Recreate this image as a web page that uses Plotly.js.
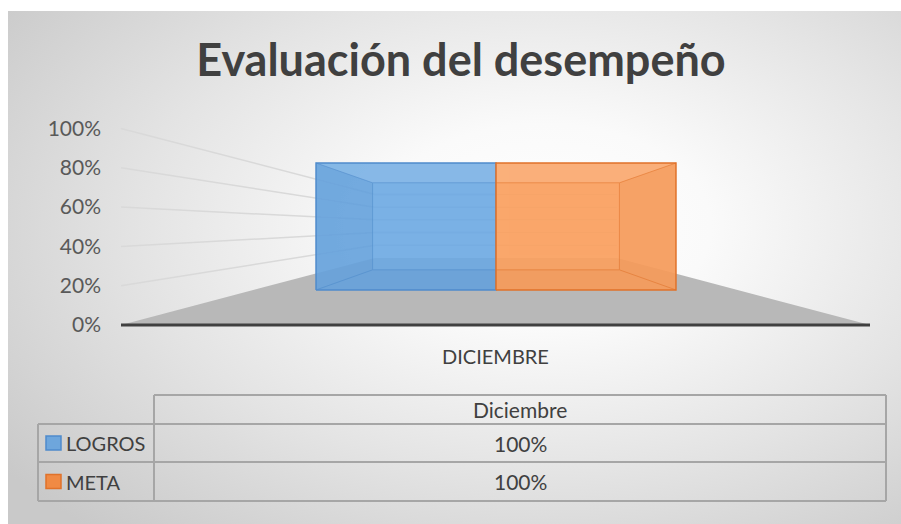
<!DOCTYPE html>
<html>
<head>
<meta charset="utf-8">
<script src="https://cdn.plot.ly/plotly-3.0.1.min.js"></script>
<style>
  html, body { margin:0; padding:0; background:#ffffff; }
  #bg { position:absolute; left:8px; top:11px; width:893px; height:513px;
        background: radial-gradient(ellipse 75% 80% at 60% 42%, #ffffff 0%, #fafafa 25%, #e4e4e4 60%, #c9c9c9 100%); }
  #chart { position:absolute; left:0; top:0; width:901px; height:524px; }
</style>
</head>
<body>
<div id="bg"></div>
<div id="chart"></div>
<script>
// ---------------- data ----------------
const chartTitle = 'Evaluación del desempeño';
const categories = ['DICIEMBRE'];
const tableHeader = ['Diciembre'];
const seriesNames = ['LOGROS', 'META'];
const logros = [1.0];
const meta = [1.0];
const tickValues = [0, 0.2, 0.4, 0.6, 0.8, 1.0];
const tickLabels = ['0%', '20%', '40%', '60%', '80%', '100%'];

// ---------------- styling / geometry ----------------
const W = 901, H = 524;
const VX = 496;            // vanishing point x (pixel axis)
const VY = 0.504;          // vanishing point in value units
const WALL_L = -375, WALL_R = 374;
const S_FRONT = 1.0, S_BACK = 0.323;
const BAR_SF = 0.646, BAR_SB = 0.443;
const BAR_HALF = 278.6;
const fills = ['rgba(108,168,226,0.90)', 'rgba(250,160,94,0.92)'];
const edges = ['#4f8bcb', '#e0722a'];
const sideShade = ['rgba(40,90,150,0.08)', 'rgba(170,80,20,0.05)'];
const keyFill = ['#6ea6dc', '#f08a44'];
const textCol = '#404040';
const FONT = 'Lato, "Open Sans", sans-serif';

function proj(X, v, s) { return [VX + X * s, VY + (v - VY) * s]; }
function poly(pts, extra) {
  const x = [], y = [];
  pts.forEach(p => { x.push(p[0]); y.push(p[1]); });
  x.push(pts[0][0]); y.push(pts[0][1]);
  return Object.assign({ type: 'scatter', mode: 'lines', x: x, y: y, hoverinfo: 'skip', showlegend: false }, extra);
}
function segs(list, extra) {
  const x = [], y = [];
  list.forEach(sg => { x.push(sg[0][0], sg[1][0], null); y.push(sg[0][1], sg[1][1], null); });
  return Object.assign({ type: 'scatter', mode: 'lines', x: x, y: y, hoverinfo: 'skip', showlegend: false }, extra);
}

const traces = [];
// floor
traces.push(poly([proj(WALL_L, 0, S_FRONT), proj(WALL_R, 0, S_FRONT), proj(WALL_R, 0, S_BACK), proj(WALL_L, 0, S_BACK)],
  { fill: 'toself', fillcolor: '#b8b8b8', line: { width: 0, color: 'rgba(0,0,0,0)' } }));
// gridlines: left wall + back wall
const grid = [];
tickValues.forEach(v => {
  if (v === 0) return;
  grid.push([proj(WALL_L, v, S_FRONT), proj(WALL_L, v, S_BACK)]);
  grid.push([proj(WALL_L, v, S_BACK), proj(WALL_R, v, S_BACK)]);
});
traces.push(segs(grid, { line: { color: '#d9d9d9', width: 1.5 } }));
// floor front edge
traces.push(segs([[proj(WALL_L, 0, S_FRONT), proj(WALL_R, 0, S_FRONT)]], { line: { color: '#404040', width: 3 } }));

// bars
const seriesVals = [logros, meta];
seriesVals.forEach((vals, i) => {
  vals.forEach((val, c) => {
    const X0 = i === 0 ? -BAR_HALF : 0;
    const X1 = i === 0 ? 0 : BAR_HALF;
    const Xo = i === 0 ? X0 : X1;
    traces.push(poly([proj(X0, 0, BAR_SF), proj(X1, 0, BAR_SF), proj(X1, val, BAR_SF), proj(X0, val, BAR_SF)],
      { fill: 'toself', fillcolor: fills[i], line: { width: 0, color: 'rgba(0,0,0,0)' } }));
    traces.push(poly([proj(Xo, 0, BAR_SF), proj(Xo, val, BAR_SF), proj(Xo, val, BAR_SB), proj(Xo, 0, BAR_SB)],
      { fill: 'toself', fillcolor: sideShade[i], line: { width: 0, color: 'rgba(0,0,0,0)' } }));
    traces.push(poly([proj(X0, 0, BAR_SF), proj(X1, 0, BAR_SF), proj(X1, 0, BAR_SB), proj(X0, 0, BAR_SB)],
      { fill: 'toself', fillcolor: sideShade[i], line: { width: 0, color: 'rgba(0,0,0,0)' } }));
    traces.push(poly([proj(X0, val, BAR_SF), proj(X1, val, BAR_SF), proj(X1, val, BAR_SB), proj(X0, val, BAR_SB)],
      { fill: 'toself', fillcolor: 'rgba(255,255,255,0.10)', line: { width: 0, color: 'rgba(0,0,0,0)' } }));
    const inner = [
      [proj(X0, 0, BAR_SB), proj(X1, 0, BAR_SB)], [proj(X0, val, BAR_SB), proj(X1, val, BAR_SB)],
      [proj(Xo, 0, BAR_SB), proj(Xo, val, BAR_SB)],
      [proj(Xo, 0, BAR_SF), proj(Xo, 0, BAR_SB)], [proj(Xo, val, BAR_SF), proj(Xo, val, BAR_SB)]
    ];
    traces.push(segs(inner, { line: { color: edges[i], width: 1 }, opacity: 0.55 }));
    traces.push(poly([proj(X0, 0, BAR_SF), proj(X1, 0, BAR_SF), proj(X1, val, BAR_SF), proj(X0, val, BAR_SF)],
      { line: { color: edges[i], width: 1.5 } }));
  });
});

// ---------------- table (paper coords from pixels) ----------------
const px = x => x / W, py = y => 1 - y / H;
const T = { x0: 38, x1: 154, x2: 886, yH: 395, y1: 424, y2: 462, y3: 501 };
const lineStyle = { color: '#a6a6a6', width: 2 };
function hl(xa, xb, y) { return { type: 'line', xref: 'paper', yref: 'paper', x0: px(xa), x1: px(xb), y0: py(y), y1: py(y), line: lineStyle }; }
function vl(x, ya, yb) { return { type: 'line', xref: 'paper', yref: 'paper', x0: px(x), x1: px(x), y0: py(ya), y1: py(yb), line: lineStyle }; }
const shapes = [
  hl(T.x1, T.x2, T.yH), hl(T.x0, T.x2, T.y1), hl(T.x0, T.x2, T.y2), hl(T.x0, T.x2, T.y3),
  vl(T.x0, T.y1, T.y3), vl(T.x1, T.yH, T.y3), vl(T.x2, T.yH, T.y3)
];
const rowY = [T.y1, T.y2];
seriesNames.forEach((n, i) => {
  const cy = (rowY[i] + (i === 0 ? T.y2 : T.y3)) / 2;
  shapes.push({ type: 'rect', xref: 'paper', yref: 'paper', x0: px(46), x1: px(61), y0: py(cy - 7), y1: py(cy + 7),
    fillcolor: keyFill[i], line: { color: edges[i], width: 1.5 } });
});

const annotations = [];
const midX = (T.x1 + T.x2) / 2;
annotations.push({ xref: 'paper', yref: 'paper', x: px(midX), y: py((T.yH + T.y1) / 2), text: tableHeader[0],
  showarrow: false, xanchor: 'center', yanchor: 'middle', font: { family: FONT, size: 21, color: textCol } });
seriesNames.forEach((n, i) => {
  const cy = (rowY[i] + (i === 0 ? T.y2 : T.y3)) / 2;
  annotations.push({ xref: 'paper', yref: 'paper', x: px(64), y: py(cy), text: n, showarrow: false,
    xanchor: 'left', yanchor: 'middle', font: { family: FONT, size: 20, color: textCol } });
  annotations.push({ xref: 'paper', yref: 'paper', x: px(midX), y: py(cy), text: Math.round(seriesVals[i][0] * 100) + '%',
    showarrow: false, xanchor: 'center', yanchor: 'middle', font: { family: FONT, size: 21, color: textCol } });
});
annotations.push({ xref: 'x', yref: 'paper', x: VX - 1, y: py(356), text: categories[0], showarrow: false,
  xanchor: 'center', yanchor: 'middle', font: { family: FONT, size: 20, color: textCol } });

const Y_MIN = -0.2, Y_MAX = 1.1, PX_PER = 196.5, Y0PX = 325;
const layout = {
  width: W, height: H,
  margin: { l: 0, r: 0, t: 0, b: 0 },
  paper_bgcolor: 'rgba(0,0,0,0)', plot_bgcolor: 'rgba(0,0,0,0)',
  showlegend: false,
  title: { text: '<b>' + chartTitle + '</b>', x: px(461), xanchor: 'center', y: py(60), yanchor: 'middle',
    font: { family: FONT, size: 45, color: textCol } },
  xaxis: { range: [0, W], domain: [0, 1], visible: false, fixedrange: true },
  yaxis: {
    range: [Y_MIN, Y_MAX],
    domain: [py(Y0PX - Y_MIN * PX_PER), py(Y0PX - Y_MAX * PX_PER)],
    anchor: 'free', position: px(101),
    tickmode: 'array', tickvals: tickValues, ticktext: tickLabels,
    showgrid: false, zeroline: false, showline: false, ticks: '',
    tickfont: { family: FONT, size: 21, color: '#595959' }, fixedrange: true
  },
  shapes: shapes,
  annotations: annotations
};
Plotly.newPlot('chart', traces, layout, { staticPlot: true, displayModeBar: false });
</script>
</body>
</html>
